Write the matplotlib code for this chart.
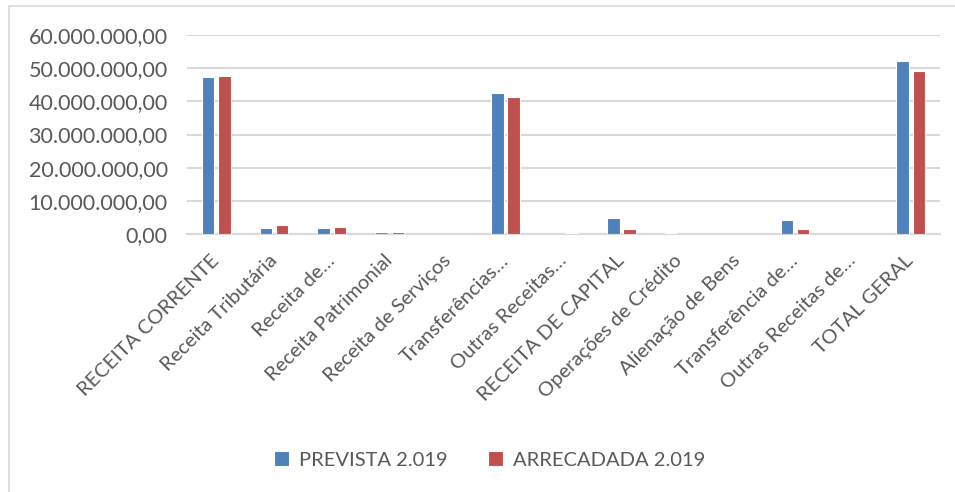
import numpy as np
import matplotlib.pyplot as plt
from matplotlib.patches import Rectangle

categorias = ["RECEITA CORRENTE", "Receita Tributária", "Receita de…",
              "Receita Patrimonial", "Receita de Serviços", "Transferências…",
              "Outras Receitas…", "RECEITA DE CAPITAL", "Operações de Crédito",
              "Alienação de Bens", "Transferência de…", "Outras Receitas de…",
              "TOTAL GERAL"]
prevista = [47.4e6, 1.9e6, 1.9e6, 0.6e6, 0.0, 42.6e6, 0.0,
            4.8e6, 0.3e6, 0.0, 4.2e6, 0.0, 52.2e6]
arrecadada = [47.7e6, 2.8e6, 2.2e6, 0.6e6, 0.0, 41.2e6, 0.3e6,
              1.5e6, 0.0, 0.0, 1.5e6, 0.0, 49.2e6]
yticks = [0, 10e6, 20e6, 30e6, 40e6, 50e6, 60e6]

plt.rcParams['font.family'] = ['Lato', 'DejaVu Sans']
cor_texto = '#595959'

fig = plt.figure(figsize=(9.55, 4.92), dpi=100)
ax = fig.add_axes([0.196, 0.524, 0.788, 0.405])

x = np.arange(len(categorias))
w = 0.22
ax.bar(x - 0.14, prevista, w, color='#4F81BD', edgecolor='white', linewidth=0.8,
       label='PREVISTA 2.019', zorder=3)
ax.bar(x + 0.14, arrecadada, w, color='#C0504D', edgecolor='white', linewidth=0.8,
       label='ARRECADADA 2.019', zorder=3)

ax.set_xlim(-0.5, len(categorias) - 0.5)
ax.set_ylim(0, 60e6)
ax.set_yticks(yticks)
ax.set_yticklabels([f"{v:,.2f}".replace(",", "X").replace(".", ",").replace("X", ".")
                    for v in yticks], fontsize=15.5, color=cor_texto)
ax.yaxis.grid(True, color='#D9D9D9', linewidth=1.5, zorder=0)
ax.tick_params(axis='y', length=0, pad=14)
ax.tick_params(axis='x', length=0, pad=17)
ax.set_xticks(x)
ax.set_xticklabels(categorias, rotation=45, ha='right', va='center',
                   rotation_mode='anchor', fontsize=14.5, color=cor_texto)
for lado in ['top', 'right', 'left']:
    ax.spines[lado].set_visible(False)
ax.spines['bottom'].set_color('#D9D9D9')
ax.spines['bottom'].set_linewidth(1.5)

leg = fig.legend(loc='center', bbox_to_anchor=(0.513, 0.065), ncol=2, frameon=False,
                 fontsize=14.5, handlelength=0.75, handleheight=0.75,
                 columnspacing=2.0, handletextpad=0.5)
for t in leg.get_texts():
    t.set_color(cor_texto)

fig.patches.append(Rectangle((9 / 955, -0.1), 1.2, 1 - 6 / 492 + 0.1,
                             transform=fig.transFigure, fill=False,
                             edgecolor='#D9D9D9', linewidth=1.2))

fig.savefig('out.png', dpi=100)
